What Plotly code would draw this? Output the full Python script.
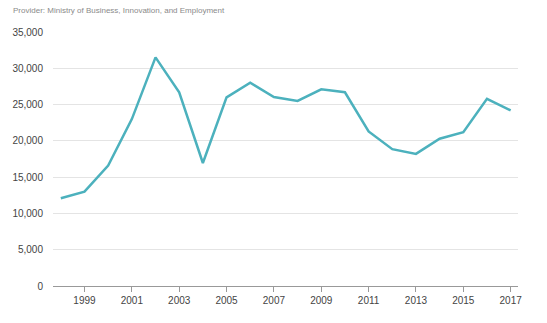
import plotly.graph_objects as go

# Annual values, 1998-2017
years = list(range(1998, 2018))
values = [12100, 13000, 16600, 23000, 31500, 26700, 16950, 26000, 28000, 26050,
          25500, 27100, 26700, 21300, 18850, 18200, 20300, 21200, 25800, 24200]

x_ticks = list(range(1999, 2018, 2))
y_ticks = list(range(0, 35001, 5000))

fig = go.Figure()
fig.add_trace(go.Scatter(
    x=years, y=values, mode="lines",
    line=dict(color="#4cb1bd", width=2.5),
    hoverinfo="x+y",
))

font_family = "Liberation Sans, Arial, sans-serif"

fig.update_layout(
    width=547, height=323,
    margin=dict(l=53, r=29, t=32, b=37),
    paper_bgcolor="#ffffff", plot_bgcolor="#ffffff",
    showlegend=False,
    font=dict(family=font_family, size=10, color="#444444"),
    annotations=[dict(
        text="Provider: Ministry of Business, Innovation, and Employment",
        xref="paper", yref="paper", x=0, y=1,
        xanchor="left", yanchor="top",
        xshift=-42, yshift=28,
        showarrow=False,
        font=dict(family=font_family, size=8, color="#8a8a8a"),
    )],
)

fig.update_xaxes(
    range=[1997.67, 2017.31],
    tickvals=x_ticks, ticktext=[str(t) for t in x_ticks],
    showgrid=False, zeroline=False,
    showline=True, linecolor="#999999", linewidth=1,
    ticks="outside", ticklen=5, tickcolor="#999999",
    tickfont=dict(size=10, color="#444444"),
)
fig.update_yaxes(
    range=[0, 35000],
    tickvals=y_ticks, ticktext=[f"{t:,}" for t in y_ticks],
    showgrid=True, gridcolor="#e4e4e4", gridwidth=1,
    zeroline=False, showline=False,
    ticks="", ticklabelstandoff=9,
    tickfont=dict(size=10, color="#444444"),
)

fig.write_html("out.html")
